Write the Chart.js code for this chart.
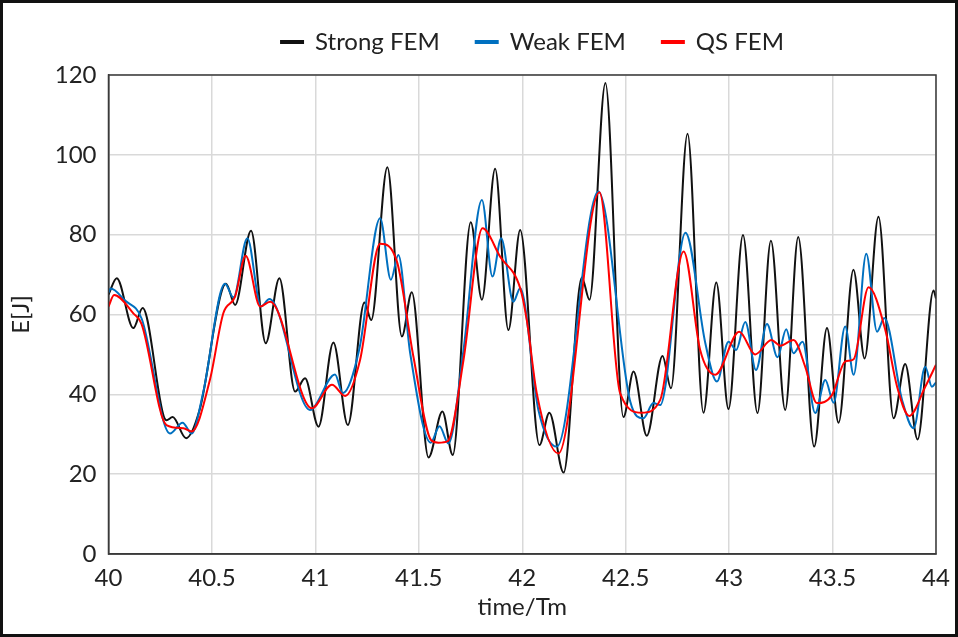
<!DOCTYPE html>
<html lang="en">
<head>
  <meta charset="UTF-8">
  <title>E[J] vs time/Tm</title>
  <style>
    html, body { margin: 0; padding: 0; background: #fff; }
    .frame {
      width: 958px;
      height: 637px;
      box-sizing: border-box;
      border: 3px solid #111;
      background: #fff;
    }
    .frame canvas { display: block; }
  </style>
</head>
<body>

<div class="frame">
  <canvas id="energyChart" width="952" height="631"></canvas>
</div>

<script src="https://cdn.jsdelivr.net/npm/chart.js"></script>

<script>
  // values (time in Tm, energy in J)
  const seriesNames = ['Strong FEM', 'Weak FEM', 'QS FEM'];

  const strongTime = [40.0, 40.04, 40.12, 40.165, 40.28, 40.31, 40.375, 40.44, 40.568, 40.612,
    40.689, 40.76, 40.826, 40.902, 40.95, 41.015, 41.087, 41.157, 41.237, 41.27,
    41.348, 41.418, 41.466, 41.547, 41.614, 41.664, 41.751, 41.805, 41.869, 41.933,
    41.99, 42.083, 42.131, 42.2, 42.288, 42.325, 42.402, 42.489, 42.538, 42.602,
    42.678, 42.719, 42.799, 42.876, 42.938, 42.997, 43.067, 43.137, 43.202, 43.271,
    43.334, 43.411, 43.473, 43.529, 43.601, 43.655, 43.722, 43.795, 43.851, 43.911,
    43.988, 44.0];
  const strongE = [65, 69.1, 56.6, 61.6, 33.5, 34.3, 29, 36, 67.7, 62.4,
    81, 52.8, 69.1, 40.7, 44, 31.9, 53, 32.3, 63, 58.6,
    96.9, 54.5, 65.6, 24.2, 35.7, 24.8, 83.1, 63.7, 96.5, 56.1,
    81.2, 27.3, 35.4, 20.4, 69.3, 63.7, 118, 34.3, 45.7, 29.6,
    49.6, 41.5, 105.3, 35.4, 68, 36.3, 79.9, 35.3, 78.5, 36.1,
    79.4, 26.9, 56.6, 32.9, 71.2, 49, 84.5, 34, 47.6, 28.7,
    66, 64];

  const weakTime = [40.0, 40.01, 40.08, 40.16, 40.297, 40.358, 40.402, 40.457, 40.563, 40.604,
    40.671, 40.737, 40.778, 40.974, 41.095, 41.132, 41.213, 41.313, 41.365, 41.401,
    41.458, 41.558, 41.6, 41.643, 41.716, 41.805, 41.856, 41.898, 41.957, 41.99,
    42.078, 42.167, 42.368, 42.522, 42.586, 42.634, 42.667, 42.789, 42.885, 42.941,
    42.997, 43.034, 43.078, 43.13, 43.183, 43.234, 43.276, 43.311, 43.355, 43.416,
    43.465, 43.505, 43.561, 43.602, 43.663, 43.715, 43.75, 43.836, 43.892, 43.948,
    43.98, 44.0];
  const weakE = [65.5, 66.5, 63.5, 59, 30.2, 32.9, 30.2, 40.3, 67.7, 64.3,
    79.1, 62, 63.9, 36.1, 45, 40.3, 51.5, 84.1, 68.7, 74.9,
    50.4, 27.9, 32, 27.7, 51.1, 88.7, 69.5, 79.1, 63.2, 66.6,
    36.1, 26.9, 90.8, 38.2, 34, 37.8, 37.3, 80.5, 52.8, 43.2,
    53.2, 51.1, 58.1, 46.1, 57.6, 49.3, 56.3, 50.3, 53.2, 35.3,
    43.6, 37.9, 57, 44.9, 75.2, 55.7, 59.1, 38.6, 31.5, 46.9,
    41.9, 43];

  const qsTime = [40.0, 40.027, 40.12, 40.16, 40.28, 40.362, 40.402, 40.49, 40.555, 40.612,
    40.663, 40.733, 40.781, 40.983, 41.08, 41.144, 41.216, 41.313, 41.394, 41.474,
    41.56, 41.595, 41.64, 41.716, 41.808, 41.893, 41.99, 42.022, 42.07, 42.175,
    42.373, 42.473, 42.578, 42.667, 42.78, 42.86, 42.933, 43.049, 43.126, 43.204,
    43.247, 43.311, 43.368, 43.424, 43.497, 43.561, 43.602, 43.674, 43.755, 43.812,
    43.871, 43.948, 44.0];
  const qsE = [62, 64.9, 60.3, 57.6, 32.3, 31.5, 30.7, 43.6, 60.3, 64.5,
    74.7, 62, 63.2, 36.5, 42.4, 39.6, 48.6, 77.7, 73.3, 49.4,
    28.5, 27.9, 28.3, 48.6, 81.6, 74.5, 66.6, 58.6, 40.3, 25.2,
    90.6, 40.3, 35.4, 38.6, 75.8, 51.1, 44.9, 55.7, 50, 53.6,
    52.2, 53.6, 46.9, 37.8, 39.8, 48.2, 48.8, 66.8, 56.1, 41.9,
    34.6, 41.9, 47.4];

  const lineColors = ['#111111', '#0070c0', '#ff0000'];

  function toPoints(xs, ys) {
    return xs.map((x, i) => ({ x: x, y: ys[i] }));
  }

  const fontFamily = 'Lato, "Open Sans", sans-serif';
  const fontSize = 24;

  // box around the plot area
  const plotFrame = {
    id: 'plotFrame',
    afterDraw(chart) {
      const a = chart.chartArea;
      const ctx = chart.ctx;
      ctx.save();
      ctx.strokeStyle = '#3a3a3a';
      ctx.lineWidth = 1.5;
      ctx.strokeRect(a.left, a.top, a.right - a.left, a.bottom - a.top);
      ctx.restore();
    }
  };

  // legend sits a bit right of centre and higher up in the original
  const legendNudge = {
    id: 'legendNudge',
    afterLayout(chart) {
      const lg = chart.legend;
      if (!lg) return;
      lg.left += 63; lg.right += 63;
      lg.top -= 11; lg.bottom -= 11;
    }
  };

  const ctx = document.getElementById('energyChart').getContext('2d');

  new Chart(ctx, {
    type: 'line',
    data: {
      datasets: [
        { label: seriesNames[0], data: toPoints(strongTime, strongE), borderColor: lineColors[0], backgroundColor: lineColors[0], order: 2 },
        { label: seriesNames[1], data: toPoints(weakTime, weakE), borderColor: lineColors[1], backgroundColor: lineColors[1], order: 1 },
        { label: seriesNames[2], data: toPoints(qsTime, qsE), borderColor: lineColors[2], backgroundColor: lineColors[2], order: 0 }
      ]
    },
    options: {
      responsive: false,
      animation: false,
      events: [],
      datasets: {
        line: {
          borderWidth: 2,
          pointRadius: 0,
          fill: false,
          cubicInterpolationMode: 'monotone'
        }
      },
      layout: {
        padding: { top: 2, right: 19, bottom: 0, left: 0 }
      },
      plugins: {
        legend: {
          position: 'top',
          labels: {
            boxWidth: 22,
            boxHeight: 2,
            padding: 36,
            color: '#222',
            font: { family: fontFamily, size: fontSize },
            sort: (a, b) => a.datasetIndex - b.datasetIndex
          }
        },
        tooltip: { enabled: false }
      },
      scales: {
        x: {
          type: 'linear',
          min: 40,
          max: 44,
          ticks: {
            stepSize: 0.5,
            padding: 10,
            color: '#222',
            font: { family: fontFamily, size: fontSize },
            callback: value => String(value)
          },
          grid: { color: '#d9d9d9', lineWidth: 1.5, drawTicks: false },
          border: { color: '#3a3a3a', width: 1.5 },
          title: {
            display: true,
            text: 'time/Tm',
            color: '#222',
            font: { family: fontFamily, size: fontSize },
            padding: { top: 0, bottom: 12 }
          },
          afterFit(scale) {
            scale.height = 80;
            scale.paddingLeft = 0;
            scale.paddingRight = 0;
          }
        },
        y: {
          min: 0,
          max: 120,
          ticks: {
            stepSize: 20,
            padding: 12,
            color: '#222',
            font: { family: fontFamily, size: fontSize }
          },
          grid: { color: '#d9d9d9', lineWidth: 1.5, drawTicks: false },
          border: { color: '#3a3a3a', width: 1.5 },
          title: {
            display: true,
            text: 'E[J]',
            color: '#222',
            font: { family: fontFamily, size: fontSize },
            padding: { top: 4, bottom: 0 }
          },
          afterFit(scale) { scale.width = 105.5; }
        }
      }
    },
    plugins: [plotFrame, legendNudge]
  });
</script>

</body>
</html>
